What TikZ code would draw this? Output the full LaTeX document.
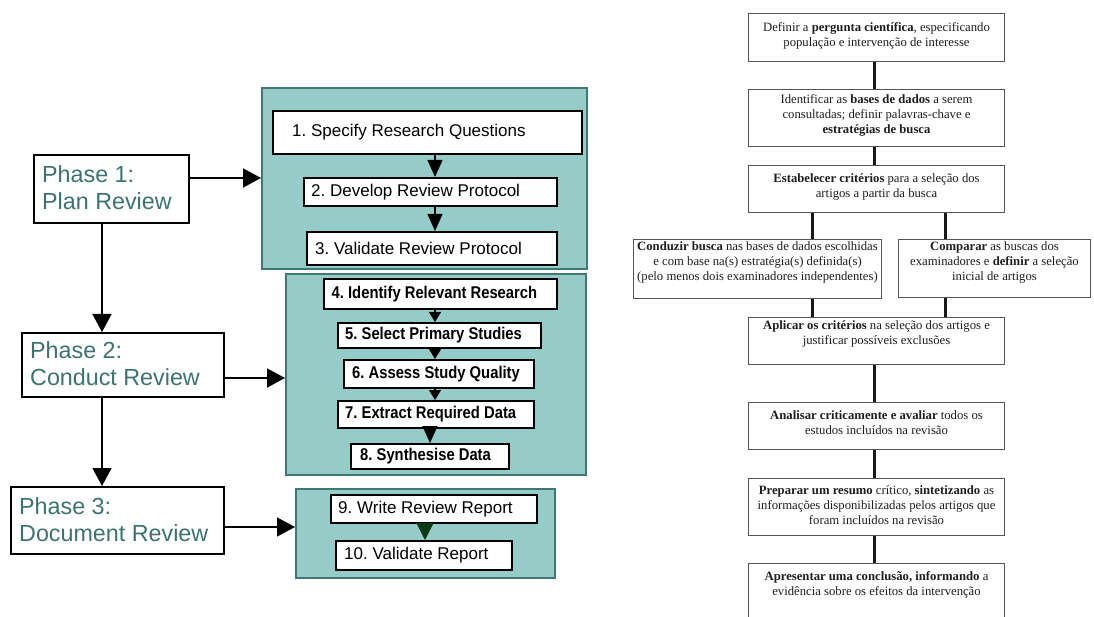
\documentclass[tikz,border=0pt]{standalone}
\usepackage{fontspec}
\setmainfont{Liberation Sans}
\newfontfamily\serifR{Liberation Serif}
\newfontfamily\narrowB{Liberation Sans}[FakeStretch=0.87, BoldFeatures={FakeStretch=0.87}]
\usetikzlibrary{arrows.meta}
\definecolor{tealF}{RGB}{150,204,200}
\definecolor{tealB}{RGB}{66,120,116}
\definecolor{phasec}{RGB}{60,115,112}
\definecolor{rgray}{RGB}{85,85,85}
\definecolor{rtxt}{RGB}{30,30,30}
\definecolor{dgreen}{RGB}{12,60,20}
\tikzset{
 tealbox/.style={draw=tealB, fill=tealF, line width=2.2pt, inner sep=0pt, anchor=north west},
 lbox/.style={draw=black, line width=1.8pt, fill=white, inner sep=0pt, anchor=north west},
 ltext/.style={anchor=west, inner sep=0pt, font=\fontsize{17}{20}\selectfont},
 btext/.style={anchor=west, inner sep=0pt, font=\narrowB\bfseries\fontsize{17}{20}\selectfont},
 phase/.style={draw=black, line width=2pt, fill=white, inner sep=0pt, anchor=north west},
 ptext/.style={anchor=west, inner sep=0pt, align=left, text=phasec, font=\fontsize{23.3}{27}\selectfont},
 rbox/.style={draw=rgray, line width=1pt, inner sep=0pt, anchor=north west},
 rtext/.style={anchor=north, align=center, inner sep=0pt, font=\serifR\fontsize{12.7}{15}\selectfont, text=rtxt},
 conn/.style={line width=3pt, draw=black!90},
 bigarr/.style={line width=1.5pt, -{Triangle[length=18pt,width=19pt]}},
 medarr/.style={line width=1.2pt, -{Triangle[length=17pt,width=15pt]}},
 smlarr/.style={line width=1.2pt, -{Triangle[length=10pt,width=12pt]}},
}
\begin{document}
\frenchspacing
\begin{tikzpicture}[x=1pt,y=-1pt]
\useasboundingbox (0,0) rectangle (1094,617);
\fill[white] (0,0) rectangle (1094,617);

% ---------- left panel: teal groups
\node[tealbox, minimum width=325pt, minimum height=181pt] (A) at (261,87) {};
\node[tealbox, minimum width=300pt, minimum height=201pt] (B) at (285,273) {};
\node[tealbox, minimum width=259pt, minimum height=89pt] (C) at (295,488) {};

% inner boxes
\node[lbox, minimum width=309pt, minimum height=43pt] (b1) at (272,110) {};
\node[lbox, minimum width=253pt, minimum height=28pt] (b2) at (303,177) {};
\node[lbox, minimum width=250pt, minimum height=33pt] (b3) at (306,231) {};
\node[lbox, minimum width=233pt, minimum height=30pt] (b4) at (323,278) {};
\node[lbox, minimum width=203pt, minimum height=25pt] (b5) at (337,322) {};
\node[lbox, minimum width=190pt, minimum height=28pt] (b6) at (343,359) {};
\node[lbox, minimum width=196pt, minimum height=27pt] (b7) at (337,400) {};
\node[lbox, minimum width=158pt, minimum height=25pt] (b8) at (350,443) {};
\node[lbox, minimum width=206pt, minimum height=28pt] (b9) at (330,494) {};
\node[lbox, minimum width=176pt, minimum height=29pt] (b10) at (335,540) {};

\node[ltext] (l1) at ([xshift=20pt]b1.west) {1. Specify Research Questions};
\node[ltext] (l2) at ([xshift=8pt]b2.west) {2. Develop Review Protocol};
\node[ltext] (l3) at ([xshift=9pt]b3.west) {3. Validate Review Protocol};
\node[btext] (l4) at ([xshift=8.5pt]b4.west) {4. Identify Relevant Research};
\node[btext] (l5) at ([xshift=8pt]b5.west) {5. Select Primary Studies};
\node[btext] (l6) at ([xshift=9pt]b6.west) {6. Assess Study Quality};
\node[btext] (l7) at ([xshift=8pt]b7.west) {7. Extract Required Data};
\node[btext] (l8) at ([xshift=10pt]b8.west) {8. Synthesise Data};
\node[ltext] (l9) at ([xshift=8pt]b9.west) {9. Write Review Report};
\node[ltext] (l10) at ([xshift=9pt]b10.west) {10. Validate Report};

% phases
\node[phase, minimum width=155pt, minimum height=68pt] (P1) at (33,154) {};
\node[phase, minimum width=202pt, minimum height=64pt] (P2) at (21,332) {};
\node[phase, minimum width=213pt, minimum height=67pt] (P3) at (10,486) {};
\node[ptext] (p1t) at ([xshift=9pt,yshift=1pt]P1.west) {Phase 1:\\Plan Review};
\node[ptext] (p2t) at ([xshift=9pt,yshift=1pt]P2.west) {Phase 2:\\Conduct Review};
\node[ptext] (p3t) at ([xshift=9pt,yshift=1pt]P3.west) {Phase 3:\\Document Review};

\coordinate (vx) at (102,0);
\coordinate (ax) at (435,0);
\coordinate (ax2) at (430,0);
\coordinate (ax3) at (425,0);

\draw[bigarr] ([yshift=11pt]P1.east) -- ([yshift=11pt]P1.east -| A.west);
\draw[bigarr] ([yshift=-13pt]P2.east) -- ([yshift=-13pt]P2.east -| B.west);
\draw[bigarr] ([yshift=-6.5pt]P3.east) -- ([yshift=-6.5pt]P3.east -| C.west);
\draw[bigarr] (P1.south -| vx) -- (P2.north -| vx);
\draw[bigarr] (P2.south -| vx) -- (P3.north -| vx);

\draw[medarr] (b1.south -| ax) -- (b2.north -| ax);
\draw[medarr] (b2.south -| ax) -- (b3.north -| ax);
\draw[smlarr] (b4.south -| ax) -- (b5.north -| ax);
\draw[smlarr] (b5.south -| ax) -- (b6.north -| ax);
\draw[smlarr] (b6.south -| ax) -- (b7.north -| ax);
\draw[medarr] (b7.south -| ax2) -- (b8.north -| ax2);
\draw[line width=1.2pt, dgreen, -{Triangle[length=17pt,width=17pt]}] (b9.south -| ax3) -- (b10.north -| ax3);

% ---------- right panel
\node[rbox, minimum width=256pt, minimum height=48pt] (R1) at (748,13) {};
\node[rbox, minimum width=256pt, minimum height=57pt] (R2) at (748,89) {};
\node[rbox, minimum width=256pt, minimum height=47pt] (R3) at (748,165) {};
\node[rbox, minimum width=248pt, minimum height=59pt] (R4) at (633,239) {};
\node[rbox, minimum width=192pt, minimum height=58pt] (R5) at (898,239) {};
\node[rbox, minimum width=256pt, minimum height=47pt] (R6) at (748,317) {};
\node[rbox, minimum width=256pt, minimum height=47pt] (R7) at (748,402) {};
\node[rbox, minimum width=256pt, minimum height=57pt] (R8) at (748,478) {};
\node[rbox, minimum width=256pt, minimum height=67pt] (R9) at (748,563) {};

\node[rtext] (t1) at ([yshift=-9pt]R1.north) {Definir a \textbf{pergunta científica}, especificando\\população e intervenção de interesse};
\node[rtext] (t2) at ([yshift=-5pt]R2.north) {Identificar as \textbf{bases de dados} a serem\\consultadas; definir palavras-chave e\\\textbf{estratégias de busca}};
\node[rtext] (t3) at ([yshift=-8pt]R3.north) {\textbf{Estabelecer critérios} para a seleção dos\\artigos a partir da busca};
\node[rtext] (t4) at ([yshift=-2pt]R4.north) {\textbf{Conduzir busca} nas bases de dados escolhidas\\e com base na(s) estratégia(s) definida(s)\\(pelo menos dois examinadores independentes)};
\node[rtext] (t5) at ([yshift=-2pt]R5.north) {\textbf{Comparar} as buscas dos\\examinadores e \textbf{definir} a seleção\\inicial de artigos};
\node[rtext] (t6) at ([yshift=-3pt]R6.north) {\textbf{Aplicar os critérios} na seleção dos artigos e\\justificar possíveis exclusões};
\node[rtext] (t7) at ([yshift=-8pt]R7.north) {\textbf{Analisar criticamente e avaliar} todos os\\estudos incluídos na revisão};
\node[rtext] (t8) at ([yshift=-7pt]R8.north) {\textbf{Preparar um resumo} crítico, \textbf{sintetizando} as\\informações disponibilizadas pelos artigos que\\foram incluídos na revisão};
\node[rtext] (t9) at ([yshift=-8pt]R9.north) {\textbf{Apresentar uma conclusão, informando} a\\evidência sobre os efeitos da intervenção};

\coordinate (cx) at (874,0);
\coordinate (lx) at (812,0);
\coordinate (rx) at (945,0);
\draw[conn] (R1.south -| cx) -- (R2.north -| cx);
\draw[conn] (R2.south -| cx) -- (R3.north -| cx);
\draw[conn] (R3.south -| lx) -- (R4.north -| lx);
\draw[conn] (R3.south -| rx) -- (R5.north -| rx);
\draw[conn] (R4.south -| lx) -- (R6.north -| lx);
\draw[conn] (R5.south -| rx) -- (R6.north -| rx);
\draw[conn] (R6.south -| cx) -- (R7.north -| cx);
\draw[conn] (R7.south -| cx) -- (R8.north -| cx);
\draw[conn] (R8.south -| cx) -- (R9.north -| cx);
\end{tikzpicture}
\end{document}
